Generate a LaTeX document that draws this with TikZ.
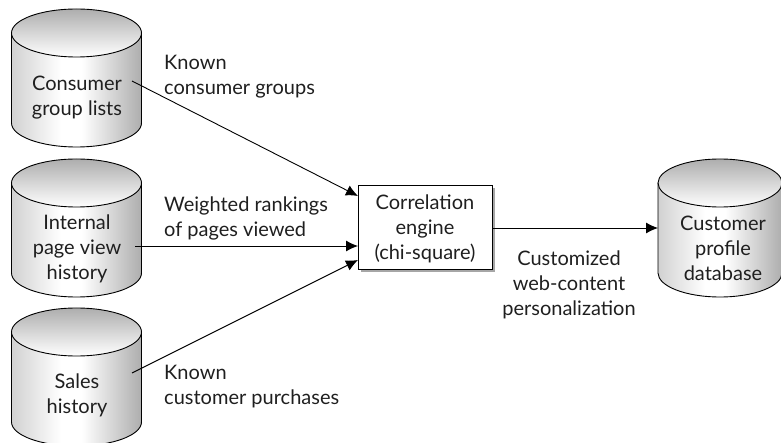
\documentclass[tikz,border=0pt]{standalone}
\usepackage{fontspec}
\setmainfont{Lato}
\usetikzlibrary{arrows.meta}
\definecolor{shadegray}{gray}{0.68}
\definecolor{ink}{gray}{0.12}
\pgfdeclarehorizontalshading{cylside}{100bp}{
 color(0bp)=(black!18); color(25bp)=(black!18); color(44bp)=(white); color(52bp)=(white); color(75bp)=(black!32); color(100bp)=(black!32)}
\tikzset{
 x=1pt,y=-1pt,
 lbl/.style={font=\fontsize{20}{25}\selectfont,text=ink,align=left,anchor=west,inner sep=0pt},
 ctr/.style={font=\fontsize{20}{25}\selectfont,text=ink,align=center,inner sep=0pt},
 conn/.style={draw=black,line width=0.9pt,-{Latex[length=12pt,width=11pt]}},
 cyl/.style={draw=black,line width=0.9pt},
}
\newcommand{\cylinder}[5]{% cx, ctop, rx, ry, cbot
 \path[shading=cylside]
   (#1-#3,#2) -- (#1-#3,#5) arc[start angle=180,end angle=360,x radius=#3,y radius=-#4] -- (#1+#3,#2) -- cycle;
 \path[top color=shadegray,bottom color=white] (#1,#2) ellipse[x radius=#3,y radius=#4];
 \draw[cyl] (#1,#2) ellipse[x radius=#3,y radius=#4];
 \draw[cyl] (#1-#3,#2) -- (#1-#3,#5) arc[start angle=180,end angle=360,x radius=#3,y radius=-#4] -- (#1+#3,#2);
}
\begin{document}
\begin{tikzpicture}
\useasboundingbox (0,0) rectangle (781,443);
\cylinder{76.5}{33}{65}{24}{123}
\cylinder{76.5}{183}{65}{24}{273}
\cylinder{76.5}{332}{65}{24}{422}
\cylinder{720}{183}{62}{24}{273}
\node[ctr] (t1) at (77,97.5) {Consumer\\group lists};
\node[ctr] (t2) at (77,249) {Internal\\page view\\history};
\node[ctr] (t3) at (77,395) {Sales\\history};
\node[ctr] (t4) at (723,248) {Customer\\profile\\database};
\fill[gray!70] (361,188) rectangle (495,272);
\node[draw=black,fill=white,line width=0.9pt,minimum width=134pt,minimum height=84pt,ctr] (e) at (425,227) {\rule{0pt}{18pt}Correlation\\engine\\(chi-square)};
\coordinate (s1) at (132,81);
\coordinate (s2) at (135,246);
\coordinate (s3) at (132,373);
\coordinate (t1a) at (358,196);
\coordinate (t2a) at (358,246);
\coordinate (t3a) at (358,260);
\coordinate (t4a) at (658,228);
\draw[conn] (s1) -- (t1a);
\draw[conn] (s2) -- (t2a);
\draw[conn] (s3) -- (t3a);
\draw[conn] (e.east |- t4a) -- (t4a);
\node[lbl] (l1) at (164,77) {Known\\consumer groups};
\node[lbl] (l2) at (164,218) {Weighted rankings\\of pages viewed};
\node[lbl] (l3) at (164,387) {Known\\customer purchases};
\node[ctr] (l4) at (569,285) {Customized\\web-content\\personalization};
\end{tikzpicture}
\end{document}
